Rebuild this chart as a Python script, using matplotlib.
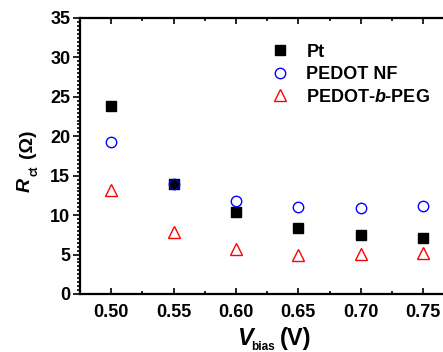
import numpy as np
import matplotlib.pyplot as plt
from matplotlib.ticker import MultipleLocator

plt.rcParams['font.family'] = ['Liberation Sans', 'DejaVu Sans']
plt.rcParams['font.weight'] = 'bold'
plt.rcParams['axes.labelweight'] = 'bold'
plt.rcParams['mathtext.fontset'] = 'custom'
plt.rcParams['mathtext.it'] = 'Liberation Sans:bold:italic'
plt.rcParams['mathtext.rm'] = 'Liberation Sans:bold'
plt.rcParams['mathtext.bf'] = 'Liberation Sans:bold'

# datos
v_bias = [0.50, 0.55, 0.60, 0.65, 0.70, 0.75]
rct_pt = [23.8, 14.0, 10.45, 8.4, 7.45, 7.15]
rct_nf = [19.25, 14.0, 11.85, 11.0, 10.9, 11.1]
rct_peg = [13.2, 7.8, 5.7, 4.9, 5.1, 5.15]

W, H = 443, 352
fig = plt.figure(figsize=(W / 100, H / 100), dpi=100)
ax = fig.add_axes([0.1806, 0.1648, 0.845, 0.7841])

ax.plot(v_bias, rct_pt, 's', color='black', markersize=7, label='Pt')
ax.plot(v_bias, rct_nf, 'o', mfc='none', mec='blue', mew=1.0, markersize=7.5, label='PEDOT NF')
ax.plot(v_bias, rct_peg, '^', mfc='none', mec='red', mew=1.0, markersize=9, label='PEDOT-$\\it{b}$-PEG')

ax.set_xlim(0.475, 0.775)
ax.set_ylim(0, 35)
ax.xaxis.set_major_locator(MultipleLocator(0.05))
ax.xaxis.set_minor_locator(MultipleLocator(0.025))
ax.yaxis.set_major_locator(MultipleLocator(5))
ax.yaxis.set_minor_locator(MultipleLocator(0.5))
ax.xaxis.set_major_formatter(plt.FormatStrFormatter('%.2f'))

for s in ax.spines.values():
    s.set_linewidth(1.6)

ax.tick_params(axis='x', which='both', direction='in', top=True, width=1.2, labelsize=13, pad=7)
ax.tick_params(axis='x', which='major', length=4)
ax.tick_params(axis='x', which='minor', length=2.5)
ax.tick_params(axis='y', which='both', direction='out', width=1.2, labelsize=13, pad=2)
ax.tick_params(axis='y', which='major', length=5)
ax.tick_params(axis='y', which='minor', length=2.5)

# etiquetas de ejes (subindice bajo, como en el original)
def px(x, y):
    return x / W, 1 - y / H

fig.text(*px(237, 345), 'V', fontsize=17, fontstyle='italic', ha='left', va='baseline')
fig.text(*px(251, 350), 'bias', fontsize=8.5, ha='left', va='baseline')
fig.text(*px(280, 345), '(V)', fontsize=17, ha='left', va='baseline')

fig.text(*px(30, 192), 'R', fontsize=14, fontstyle='italic', rotation=90,
         rotation_mode='anchor', ha='left', va='baseline')
fig.text(*px(37, 176), 'ct', fontsize=8.5, rotation=90,
         rotation_mode='anchor', ha='left', va='baseline')
fig.text(*px(32, 158), '(Ω)', fontsize=14, rotation=90,
         rotation_mode='anchor', ha='left', va='baseline')

ax.legend(loc='upper left', bbox_to_anchor=(0.489, 0.92), frameon=False, fontsize=13,
          handletextpad=0.7, labelspacing=0.3, borderpad=0.2, handlelength=1.5,
          borderaxespad=0)

fig.savefig('out.png', dpi=100)
